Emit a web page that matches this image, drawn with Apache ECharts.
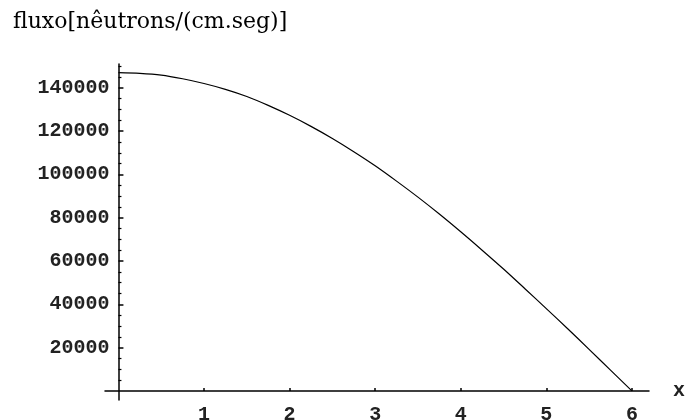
<!DOCTYPE html>
<html>
<head>
<meta charset="utf-8">
<script src="https://cdn.jsdelivr.net/npm/echarts@6/dist/echarts.min.js"></script>
<style>
  html, body { margin: 0; padding: 0; background: #fff; }
  #chart { width: 687px; height: 420px; }
</style>
</head>
<body>
<div id="chart"></div>
<script>
// Position along the slab (cm) and neutron flux at each point
const xValues = [0, 0.25, 0.5, 0.75, 1, 1.25, 1.5, 1.75, 2, 2.25, 2.5, 2.75, 3,
                 3.25, 3.5, 3.75, 4, 4.25, 4.5, 4.75, 5, 5.25, 5.5, 5.75, 6];
const fluxValues = [147000, 146700, 145900, 144200, 142000, 139300, 136000, 131900, 127300,
                    122200, 116600, 110500, 104000, 96900, 89500, 81700, 73500, 65000,
                    56300, 47200, 38000, 28700, 19200, 9600, 0];

// Tick positions and labels
const xTickValues = [1, 2, 3, 4, 5, 6];
const yTickValues = [20000, 40000, 60000, 80000, 100000, 120000, 140000];
const yMinorTickValues = [5000, 10000, 15000, 25000, 30000, 35000, 45000, 50000, 55000,
                          65000, 70000, 75000, 85000, 90000, 95000, 105000, 110000, 115000,
                          125000, 130000, 135000, 145000, 150000];

const titleText = 'fluxo[nêutrons/(cm.seg)]';
const xName = 'x';

const X_MIN = -0.157, X_MAX = 6.2;
const Y_MIN = -4200, Y_MAX = 151000;

const GRID = { left: 105, right: 38, top: 64, bottom: 20 };
const W = 687;
// the vertical axis sits at x = 0, inside the horizontal range
const yAxisShift = -((0 - X_MIN) / (X_MAX - X_MIN)) * (W - GRID.left - GRID.right);

const tickFont = {
  fontFamily: 'Liberation Mono',
  fontSize: 20,
  fontWeight: 'bold',
  color: '#222'
};
const axisStroke = { color: '#000', width: 1.5 };

const chart = echarts.init(document.getElementById('chart'), null, { renderer: 'canvas' });

chart.setOption({
  animation: false,
  backgroundColor: '#fff',
  title: {
    text: titleText,
    left: 13,
    top: 11,
    padding: 0,
    textStyle: {
      fontFamily: 'DejaVu Serif',
      fontSize: 22,
      fontWeight: 'normal',
      color: '#000'
    }
  },
  grid: Object.assign({ containLabel: false, outerBoundsMode: 'none' }, GRID),
  xAxis: {
    type: 'value',
    min: X_MIN,
    max: X_MAX,
    name: xName,
    nameLocation: 'end',
    nameGap: 24,
    nameTextStyle: Object.assign({}, tickFont, { verticalAlign: 'middle', padding: [0, 0, 4, 0] }),
    axisLine: { show: true, onZero: true, lineStyle: axisStroke },
    axisTick: { show: true, inside: true, length: 3, customValues: xTickValues, lineStyle: { color: '#000', width: 1.5 } },
    axisLabel: {
      show: true, customValues: xTickValues, margin: 8,
      verticalAlign: 'top', lineHeight: 14,
      formatter: v => String(v), ...tickFont
    },
    splitLine: { show: false }
  },
  yAxis: [
    {
      type: 'value',
      min: Y_MIN,
      max: Y_MAX,
      position: 'left',
      offset: yAxisShift,
      axisLine: { show: true, onZero: false, lineStyle: axisStroke },
      axisTick: { show: true, inside: true, length: 5, customValues: yTickValues, lineStyle: { color: '#000', width: 1.5 } },
      axisLabel: { show: true, customValues: yTickValues, margin: 9, formatter: v => String(v), ...tickFont },
      splitLine: { show: false }
    },
    {
      type: 'value',
      min: Y_MIN,
      max: Y_MAX,
      position: 'left',
      offset: yAxisShift,
      axisLine: { show: false, onZero: false },
      axisTick: { show: true, inside: true, length: 3, customValues: yMinorTickValues, lineStyle: { color: '#000', width: 1.2 } },
      axisLabel: { show: false },
      splitLine: { show: false }
    }
  ],
  series: [{
    type: 'line',
    yAxisIndex: 0,
    data: xValues.map((x, i) => [x, fluxValues[i]]),
    smooth: 0.3,
    showSymbol: false,
    lineStyle: { color: '#000', width: 1.2 }
  }]
});
</script>
</body>
</html>
